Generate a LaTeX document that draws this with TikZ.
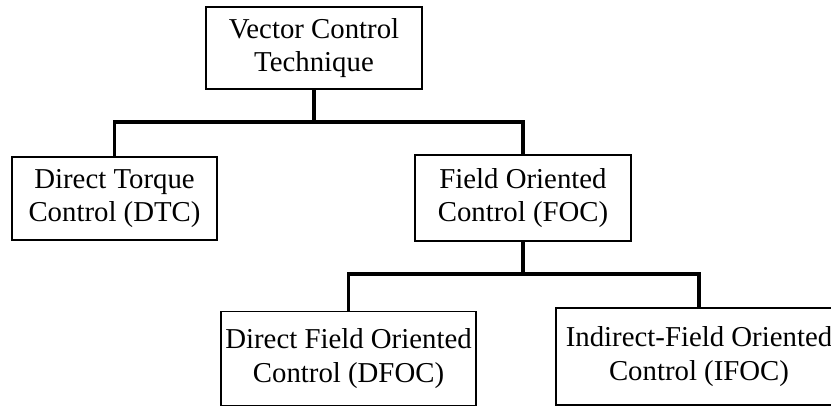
\documentclass[tikz,border=0pt]{standalone}
\usepackage{fontspec}
\setmainfont{Liberation Serif}
\usetikzlibrary{positioning}

\tikzset{
  block/.style = {draw, line width=0.9pt, align=center, inner sep=0pt,
                  font=\fontsize{14.4}{16.8}\selectfont},
  link/.style  = {line width=1.6pt}
}

\begin{document}
\begin{tikzpicture}[x=0.5pt, y=-0.5pt]
          \useasboundingbox (0,0) rectangle (831,407);
          \clip (0,0) rectangle (831,407);

          \node[block, minimum width=108pt, minimum height=41pt] (vct) at (314,48)
            {Vector Control\\Technique};
          \node[block, minimum width=102.5pt, minimum height=41.5pt] (dtc) at (114.5,198.5)
            {Direct Torque\\Control (DTC)};
          \node[block, minimum width=108pt, minimum height=43pt] (foc) at (523,198)
            {Field Oriented\\Control (FOC)};
          \node[block, minimum width=127.5pt, minimum height=47pt] (dfoc) at (348.5,358.5)
            {Direct Field Oriented\\Control (DFOC)};
          % runs past the right margin and gets cut off
          \node[block, minimum width=143pt, minimum height=48.5pt] (ifoc) at (699,356.5)
            {Indirect-Field Oriented\\Control (IFOC)};

          \draw[link] (vct.south) -- ++(0,32) -| (dtc.north);
          \draw[link] (vct.south) -- ++(0,32) -| (foc.north);
          \draw[link] (foc.south) -- ++(0,32) -| (dfoc.north);
          \draw[link] (foc.south) -- ++(0,32) -| (ifoc.north);
        \end{tikzpicture}
\end{document}
